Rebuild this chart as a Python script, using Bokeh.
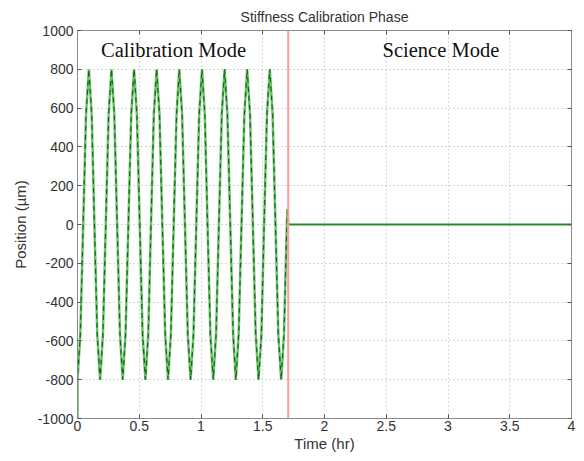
from bokeh.plotting import figure
from bokeh.models import Range1d, FixedTicker, Label, Span, LinearAxis
from bokeh.embed import file_html
from bokeh.resources import INLINE

# ---- data ----
calib_time = [0.000, 0.000, 0.023, 0.046, 0.069, 0.092, 0.115, 0.137, 0.160,
              0.183, 0.206, 0.229, 0.252, 0.275, 0.298, 0.321, 0.344,
              0.366, 0.389, 0.412, 0.435, 0.458, 0.481, 0.504, 0.527,
              0.550, 0.573, 0.595, 0.618, 0.641, 0.664, 0.687, 0.710,
              0.733, 0.756, 0.779, 0.802, 0.824, 0.847, 0.870, 0.893,
              0.916, 0.939, 0.962, 0.985, 1.008, 1.031, 1.053, 1.076,
              1.099, 1.122, 1.145, 1.168, 1.191, 1.214, 1.237, 1.260,
              1.282, 1.305, 1.328, 1.351, 1.374, 1.397, 1.420, 1.443,
              1.466, 1.489, 1.511, 1.534, 1.557, 1.580, 1.603, 1.626,
              1.649, 1.672, 1.695, 1.700, 1.706]
calib_pos = [-1000, -800, -566, 0, 566, 800, 566, 0, -566,
             -800, -566, 0, 566, 800, 566, 0, -566,
             -800, -566, 0, 566, 800, 566, 0, -566,
             -800, -566, 0, 566, 800, 566, 0, -566,
             -800, -566, 0, 566, 800, 566, 0, -566,
             -800, -566, 0, 566, 800, 566, 0, -566,
             -800, -566, 0, 566, 800, 566, 0, -566,
             -800, -566, 0, 566, 800, 566, 0, -566,
             -800, -566, 0, 566, 800, 566, 0, -566,
             -800, -566, 0, 80, 0]
science_time = [1.706, 4.0]
science_pos = [0, 0]
switch_time = 1.706

x_ticks = [0, 0.5, 1, 1.5, 2, 2.5, 3, 3.5, 4]
x_labels = ["0", "0.5", "1", "1.5", "2", "2.5", "3", "3.5", "4"]
y_ticks = [-1000, -800, -600, -400, -200, 0, 200, 400, 600, 800, 1000]
y_labels = ["-1000", "-800", "-600", "-400", "-200", "0", "200", "400", "600", "800", "1000"]

p = figure(width=584, height=461, output_backend="svg", toolbar_location=None,
           x_range=Range1d(0, 4), y_range=Range1d(-1000, 1000),
           title="Stiffness Calibration Phase")
p.min_border_left = 77
p.min_border_right = 13
p.min_border_top = 29
p.min_border_bottom = 43
p.background_fill_color = "white"
p.border_fill_color = "white"
p.outline_line_color = "#8a8a8a"
p.outline_line_width = 1

p.title.align = "center"
p.title.text_font = "Liberation Sans"
p.title.text_font_size = "14px"
p.title.text_font_style = "normal"
p.title.text_color = "#333333"
p.title.standoff = 12

bottom_ax = p.below[0]
left_ax = p.left[0]
top_ax = LinearAxis()
right_ax = LinearAxis()
p.add_layout(top_ax, "above")
p.add_layout(right_ax, "right")

for ax in (bottom_ax, left_ax):
    ax.major_label_text_font = "Liberation Sans"
    ax.major_label_text_font_size = "14px"
    ax.major_label_text_color = "#333333"
    ax.axis_label_text_font = "Liberation Sans"
    ax.axis_label_text_font_size = "15px"
    ax.axis_label_text_font_style = "normal"
    ax.axis_label_text_color = "#333333"

for ax in (bottom_ax, left_ax, top_ax, right_ax):
    ax.axis_line_color = "#8a8a8a"
    ax.major_tick_line_color = "#555555"
    ax.major_tick_in = 4
    ax.major_tick_out = 0
    ax.minor_tick_line_color = None

for ax in (bottom_ax, top_ax):
    ax.ticker = FixedTicker(ticks=x_ticks)
for ax in (left_ax, right_ax):
    ax.ticker = FixedTicker(ticks=y_ticks)

bottom_ax.major_label_overrides = {t: l for t, l in zip(x_ticks, x_labels)}
left_ax.major_label_overrides = {t: l for t, l in zip(y_ticks, y_labels)}
top_ax.major_label_overrides = {t: "" for t in x_ticks}
right_ax.major_label_overrides = {t: "" for t in y_ticks}
top_ax.major_label_standoff = 0
right_ax.major_label_standoff = 0

bottom_ax.axis_label = "Time (hr)"
left_ax.axis_label = "Position (\u00b5m)"
bottom_ax.major_label_standoff = 2
bottom_ax.axis_label_standoff = 1
left_ax.major_label_standoff = 4
left_ax.axis_label_standoff = 6

p.xgrid.ticker = FixedTicker(ticks=x_ticks)
p.ygrid.ticker = FixedTicker(ticks=y_ticks)
for g in (p.xgrid[0], p.ygrid[0]):
    g.grid_line_color = "#b0b0b0"
    g.grid_line_dash = "1 3"
    g.grid_line_width = 1

p.add_layout(Span(location=switch_time, dimension="height",
                  line_color="#ff9a9a", line_width=2))

p.line(calib_time, calib_pos, line_color="#4fae4f", line_width=2.5, line_alpha=0.8)
p.line(calib_time, calib_pos, line_color="#0a6e0a", line_width=1.2, line_dash="5 4")
p.line(science_time, science_pos, line_color="#2a862a", line_width=2)

p.add_layout(Label(x=0.19, y=897, text="Calibration Mode", text_font="Liberation Serif",
                   text_font_size="20.5px", text_color="#111111", text_baseline="middle"))
p.add_layout(Label(x=2.47, y=897, text="Science Mode", text_font="Liberation Serif",
                   text_font_size="20.5px", text_color="#111111", text_baseline="middle"))

open("out.html", "w").write(file_html(p, INLINE))
